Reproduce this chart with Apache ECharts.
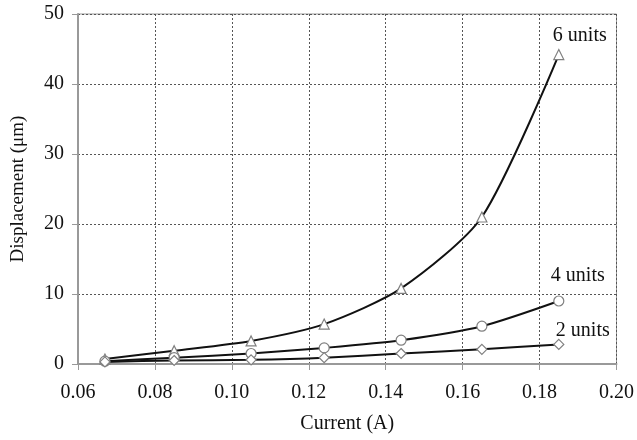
<!DOCTYPE html>
<html>
<head>
<meta charset="utf-8">
<script src="https://cdn.jsdelivr.net/npm/echarts@6/dist/echarts.min.js"></script>
<style>
  html, body { margin: 0; padding: 0; background: #fff; }
  #chart { width: 637px; height: 440px; }
</style>
</head>
<body>
<div id="chart"></div>
<script>
// Drive current (A) at each measurement
const current = [0.067, 0.085, 0.105, 0.124, 0.144, 0.165, 0.185];
// Displacement (µm) per stack size
const units6 = [0.7, 1.9, 3.3, 5.7, 10.8, 21.0, 44.2];
const units4 = [0.4, 0.9, 1.5, 2.3, 3.4, 5.4, 9.0];
const units2 = [0.3, 0.5, 0.6, 0.9, 1.5, 2.1, 2.8];
const seriesNames = ['6 units', '4 units', '2 units'];

const FONT = '"Liberation Serif", "Times New Roman", serif';
const chart = echarts.init(document.getElementById('chart'), null, { renderer: 'canvas' });

function makeSeries(name, values, symbol, labelOffset) {
  const data = values.map((v, i) => {
    const item = { value: [current[i], v] };
    if (i === values.length - 1) {
      item.label = {
        show: true,
        formatter: name,
        position: 'top',
        offset: labelOffset,
        fontFamily: FONT,
        fontSize: 20,
        color: '#111'
      };
    }
    return item;
  });
  return {
    name: name,
    type: 'line',
    smooth: 0.25,
    data: data,
    symbol: symbol,
    symbolSize: 10,
    showAllSymbol: true,
    itemStyle: { color: '#fff', borderColor: '#808080', borderWidth: 1.2 },
    lineStyle: { color: '#111', width: 2 },
    z: 3
  };
}

chart.setOption({
  animation: false,
  backgroundColor: '#fff',
  grid: { left: 78, right: 18, top: 14, bottom: 76, show: true, borderColor: '#999', borderWidth: 1 },
  xAxis: {
    type: 'value',
    min: 0.06,
    max: 0.20,
    interval: 0.02,
    name: 'Current (A)',
    nameLocation: 'middle',
    nameGap: 50,
    nameTextStyle: { fontFamily: FONT, fontSize: 20, color: '#111' },
    axisLine: { show: true, onZero: false, lineStyle: { color: '#999', width: 2 } },
    axisTick: { show: true, length: 6, lineStyle: { color: '#999' } },
    axisLabel: { fontFamily: FONT, fontSize: 20, color: '#111', margin: 19,
      formatter: v => v.toFixed(2) },
    splitLine: { show: true, lineStyle: { color: '#555', type: [2, 2], width: 1 } }
  },
  yAxis: {
    type: 'value',
    min: 0,
    max: 50,
    interval: 10,
    name: 'Displacement (\u03bcm)',
    nameLocation: 'middle',
    nameGap: 50,
    nameTextStyle: { fontFamily: FONT, fontSize: 19, color: '#111' },
    axisLine: { show: true, lineStyle: { color: '#999', width: 2 } },
    axisTick: { show: true, length: 6, lineStyle: { color: '#999' } },
    axisLabel: { fontFamily: FONT, fontSize: 20, color: '#111', margin: 14 },
    splitLine: { show: true, lineStyle: { color: '#555', type: [2, 2], width: 1 } }
  },
  series: [
    makeSeries(seriesNames[0], units6, 'triangle', [21, 2]),
    makeSeries(seriesNames[1], units4, 'circle', [19, -5]),
    makeSeries(seriesNames[2], units2, 'diamond', [24, 7])
  ]
});
</script>
</body>
</html>
